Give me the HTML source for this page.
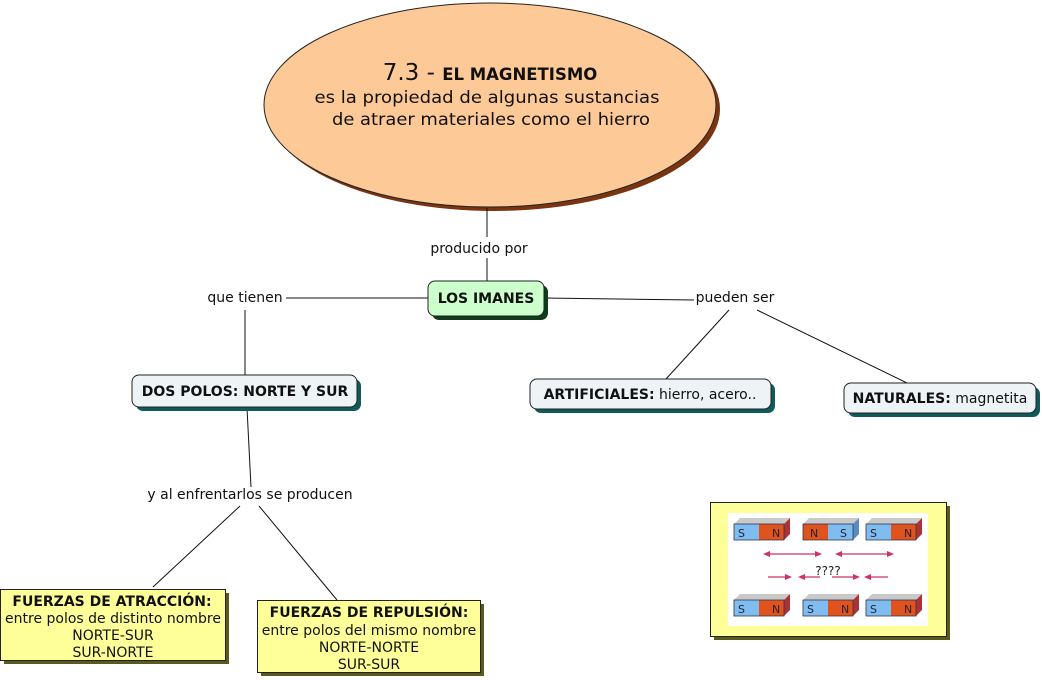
<!DOCTYPE html>
<html><head><meta charset="utf-8"><style>
body{margin:0;background:#fff;}
svg{display:block;font-family:"DejaVu Sans","Liberation Sans",sans-serif;}
</style></head><body>
<svg width="1042" height="680" viewBox="0 0 1042 680" xmlns="http://www.w3.org/2000/svg">
<!-- ellipse -->
<ellipse cx="494" cy="109" rx="226" ry="102" fill="#7a3410"/>
<ellipse cx="490" cy="105" rx="226" ry="102" fill="#fdc997" stroke="#222" stroke-width="1"/>
<text x="490" y="80" text-anchor="middle" font-size="23" fill="#111">7.3 - <tspan font-weight="bold" font-size="16.5">EL MAGNETISMO</tspan></text>
<text x="487" y="103" text-anchor="middle" font-size="17" fill="#111" textLength="345" lengthAdjust="spacingAndGlyphs">es la propiedad de algunas sustancias</text>
<text x="491" y="125" text-anchor="middle" font-size="17" fill="#111" textLength="318" lengthAdjust="spacingAndGlyphs">de atraer materiales como el hierro</text>

<!-- lines -->
<g stroke="#111" stroke-width="1" fill="none">
<line x1="487" y1="208" x2="487" y2="237"/>
<line x1="487" y1="258" x2="487" y2="281"/>
<line x1="428" y1="298" x2="286" y2="298"/>
<line x1="245" y1="310" x2="245" y2="375"/>
<line x1="544" y1="298" x2="694" y2="300"/>
<line x1="729" y1="310" x2="666" y2="379"/>
<line x1="757" y1="310" x2="907" y2="383"/>
<line x1="247" y1="408" x2="251" y2="487"/>
<line x1="240" y1="506" x2="153" y2="587"/>
<line x1="259" y1="506" x2="337" y2="600"/>
</g>
<g font-size="14" fill="#111">
<text x="479" y="253" text-anchor="middle">producido por</text>
<text x="245" y="302" text-anchor="middle">que tienen</text>
<text x="735" y="302" text-anchor="middle">pueden ser</text>
<text x="250" y="499" text-anchor="middle">y al enfrentarlos se producen</text>
</g>

<!-- LOS IMANES -->
<rect x="432" y="285" width="116" height="35" rx="7" fill="#0f3d1a"/>
<rect x="428" y="281" width="116" height="35" rx="7" fill="#ccffcc" stroke="#222"/>
<text x="486" y="303" text-anchor="middle" font-size="14" font-weight="bold" fill="#111">LOS IMANES</text>

<!-- DOS POLOS -->
<rect x="136" y="379" width="225" height="32" rx="7" fill="#0f5a5a"/>
<rect x="132" y="375" width="225" height="32" rx="7" fill="#eef3f6" stroke="#222"/>
<text x="245" y="396" text-anchor="middle" font-size="14" font-weight="bold" fill="#111">DOS POLOS: NORTE Y SUR</text>

<!-- ARTIFICIALES -->
<rect x="534" y="383" width="241" height="30" rx="7" fill="#0f5a5a"/>
<rect x="530" y="379" width="241" height="30" rx="7" fill="#eef3f6" stroke="#222"/>
<text x="650" y="399" text-anchor="middle" font-size="14" fill="#111"><tspan font-weight="bold">ARTIFICIALES:</tspan> hierro, acero..</text>

<!-- NATURALES -->
<rect x="848" y="387" width="192" height="30" rx="7" fill="#0f5a5a"/>
<rect x="844" y="383" width="192" height="30" rx="7" fill="#eef3f6" stroke="#222"/>
<text x="940" y="403" text-anchor="middle" font-size="14" fill="#111"><tspan font-weight="bold">NATURALES:</tspan> magnetita</text>

<!-- FUERZAS ATRACCION -->
<rect x="4" y="593" width="225" height="71" fill="#5a5a1a"/>
<rect x="0.5" y="589.5" width="225" height="71" fill="#ffff99" stroke="#222"/>
<g font-size="14" fill="#111" text-anchor="middle">
<text x="112" y="606" font-weight="bold">FUERZAS DE ATRACCIÓN:</text>
<text x="113" y="623">entre polos de distinto nombre</text>
<text x="113" y="640">NORTE-SUR</text>
<text x="113" y="657">SUR-NORTE</text>
</g>

<!-- FUERZAS REPULSION -->
<rect x="261" y="604" width="223" height="72" fill="#5a5a1a"/>
<rect x="257.5" y="600.5" width="223" height="72" fill="#ffff99" stroke="#222"/>
<g font-size="14" fill="#111" text-anchor="middle">
<text x="369" y="617" font-weight="bold">FUERZAS DE REPULSIÓN:</text>
<text x="369" y="635">entre polos del mismo nombre</text>
<text x="369" y="652">NORTE-NORTE</text>
<text x="369" y="669">SUR-SUR</text>
</g>

<!-- image box -->
<rect x="714" y="506" width="236" height="134" fill="#5a5a1a"/>
<rect x="710.5" y="502.5" width="236" height="134" fill="#ffff99" stroke="#222"/>
<rect x="728" y="513" width="200" height="113" fill="#fff"/>
<defs>
<g id="sn">
<polygon points="0,6 6,0 56,0 50,6" fill="#c9c9c9"/>
<rect x="0" y="6" width="25" height="16" fill="#7fbdf0"/>
<rect x="25" y="6" width="25" height="16" fill="#e0531c"/>
<polygon points="50,6 56,0 56,16 50,22" fill="#a33"/>
<rect x="0" y="6" width="50" height="16" fill="none" stroke="#335" stroke-width="0.8"/>
<text x="4" y="19" font-size="11" fill="#223">S</text>
<text x="38" y="19" font-size="11" fill="#223">N</text>
</g>
<g id="ns">
<polygon points="0,6 6,0 56,0 50,6" fill="#c9c9c9"/>
<rect x="0" y="6" width="25" height="16" fill="#e0531c"/>
<rect x="25" y="6" width="25" height="16" fill="#7fbdf0"/>
<polygon points="50,6 56,0 56,16 50,22" fill="#5a8ac0"/>
<rect x="0" y="6" width="50" height="16" fill="none" stroke="#335" stroke-width="0.8"/>
<text x="7" y="19" font-size="11" fill="#223">N</text>
<text x="37" y="19" font-size="11" fill="#223">S</text>
</g>
</defs>
<use href="#sn" x="734" y="518"/>
<use href="#ns" x="803" y="518"/>
<use href="#sn" x="866" y="518"/>
<use href="#sn" x="734" y="594"/>
<use href="#sn" x="803" y="594"/>
<use href="#sn" x="866" y="594"/>
<g stroke="#cc3366" stroke-width="1.2" fill="#cc3366">
<line x1="765" y1="554" x2="820" y2="554"/>
<line x1="837" y1="554" x2="892" y2="554"/>
<line x1="768" y1="577" x2="790" y2="577"/>
<line x1="800" y1="577" x2="820" y2="577"/>
<line x1="832" y1="577" x2="858" y2="577"/>
<line x1="866" y1="577" x2="888" y2="577"/>
</g>
<g fill="#cc3366">
<polygon points="763,554 770,551 770,557"/>
<polygon points="822,554 815,551 815,557"/>
<polygon points="835,554 842,551 842,557"/>
<polygon points="894,554 887,551 887,557"/>
<polygon points="792,577 785,574 785,580"/>
<polygon points="798,577 805,574 805,580"/>
<polygon points="860,577 853,574 853,580"/>
<polygon points="864,577 871,574 871,580"/>
</g>
<text x="828" y="575" text-anchor="middle" font-size="12" fill="#222">????</text>
</svg>
</body></html>
